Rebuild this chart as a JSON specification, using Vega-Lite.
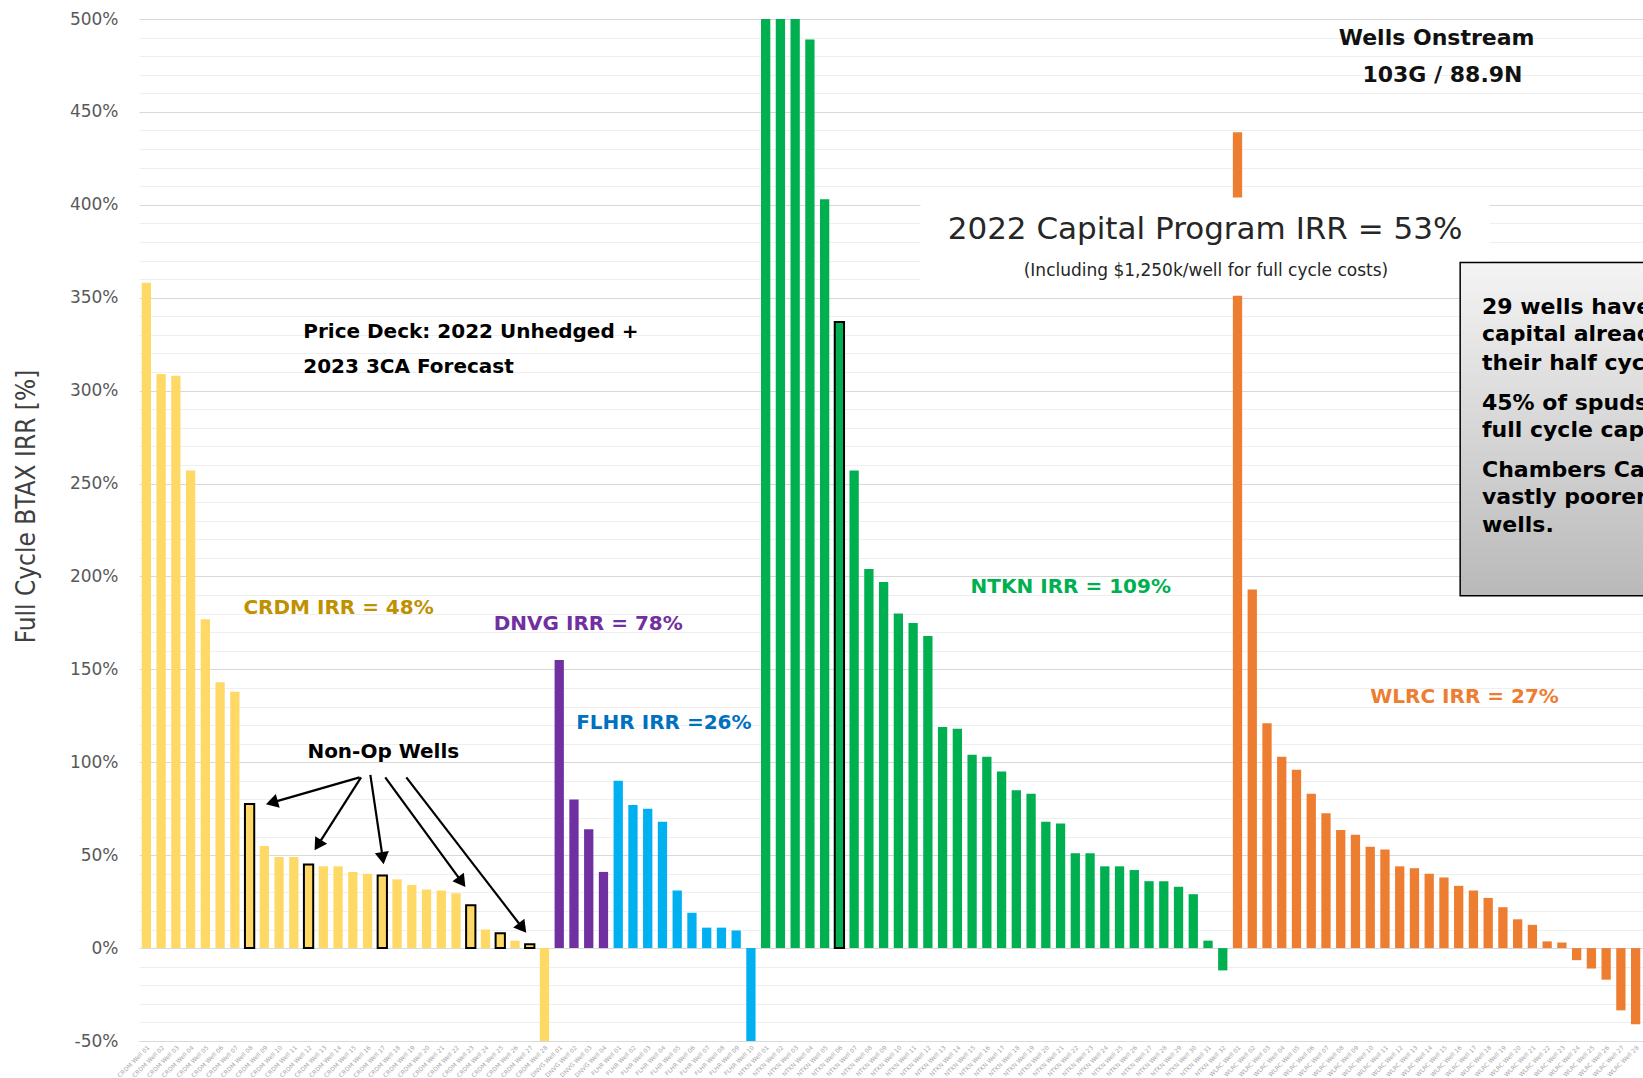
{
  "$schema": "https://vega.github.io/schema/vega-lite/v6.json",
  "width": 1504,
  "height": 1022,
  "autosize": {"type": "none"},
  "padding": {"left": 139, "top": 19, "right": 0, "bottom": 37},
  "background": "white",
  "config": {"view": {"stroke": null}, "font": "DejaVu Sans"},
  "datasets": {
    "wells": [
      {"well": "CRDM Well 01", "area": "CRDM", "irr": 358},
      {"well": "CRDM Well 02", "area": "CRDM", "irr": 309},
      {"well": "CRDM Well 03", "area": "CRDM", "irr": 308},
      {"well": "CRDM Well 04", "area": "CRDM", "irr": 257},
      {"well": "CRDM Well 05", "area": "CRDM", "irr": 177},
      {"well": "CRDM Well 06", "area": "CRDM", "irr": 143},
      {"well": "CRDM Well 07", "area": "CRDM", "irr": 138},
      {"well": "CRDM Well 08", "area": "CRDM", "irr": 77.5, "nonop": true},
      {"well": "CRDM Well 09", "area": "CRDM", "irr": 55},
      {"well": "CRDM Well 10", "area": "CRDM", "irr": 49},
      {"well": "CRDM Well 11", "area": "CRDM", "irr": 49},
      {"well": "CRDM Well 12", "area": "CRDM", "irr": 45, "nonop": true},
      {"well": "CRDM Well 13", "area": "CRDM", "irr": 44},
      {"well": "CRDM Well 14", "area": "CRDM", "irr": 44},
      {"well": "CRDM Well 15", "area": "CRDM", "irr": 41},
      {"well": "CRDM Well 16", "area": "CRDM", "irr": 40},
      {"well": "CRDM Well 17", "area": "CRDM", "irr": 39, "nonop": true},
      {"well": "CRDM Well 18", "area": "CRDM", "irr": 37},
      {"well": "CRDM Well 19", "area": "CRDM", "irr": 34},
      {"well": "CRDM Well 20", "area": "CRDM", "irr": 31.5},
      {"well": "CRDM Well 21", "area": "CRDM", "irr": 31},
      {"well": "CRDM Well 22", "area": "CRDM", "irr": 29.5},
      {"well": "CRDM Well 23", "area": "CRDM", "irr": 23, "nonop": true},
      {"well": "CRDM Well 24", "area": "CRDM", "irr": 10},
      {"well": "CRDM Well 25", "area": "CRDM", "irr": 8, "nonop": true},
      {"well": "CRDM Well 26", "area": "CRDM", "irr": 4},
      {"well": "CRDM Well 27", "area": "CRDM", "irr": 2, "nonop": true},
      {"well": "CRDM Well 28", "area": "CRDM", "irr": -50},
      {"well": "DNVG Well 01", "area": "DNVG", "irr": 155},
      {"well": "DNVG Well 02", "area": "DNVG", "irr": 80},
      {"well": "DNVG Well 03", "area": "DNVG", "irr": 64},
      {"well": "DNVG Well 04", "area": "DNVG", "irr": 41},
      {"well": "FLHR Well 01", "area": "FLHR", "irr": 90},
      {"well": "FLHR Well 02", "area": "FLHR", "irr": 77},
      {"well": "FLHR Well 03", "area": "FLHR", "irr": 75},
      {"well": "FLHR Well 04", "area": "FLHR", "irr": 68},
      {"well": "FLHR Well 05", "area": "FLHR", "irr": 31},
      {"well": "FLHR Well 06", "area": "FLHR", "irr": 19},
      {"well": "FLHR Well 07", "area": "FLHR", "irr": 11},
      {"well": "FLHR Well 08", "area": "FLHR", "irr": 11},
      {"well": "FLHR Well 09", "area": "FLHR", "irr": 9.5},
      {"well": "FLHR Well 10", "area": "FLHR", "irr": -50},
      {"well": "NTKN Well 01", "area": "NTKN", "irr": 500},
      {"well": "NTKN Well 02", "area": "NTKN", "irr": 500},
      {"well": "NTKN Well 03", "area": "NTKN", "irr": 500},
      {"well": "NTKN Well 04", "area": "NTKN", "irr": 489},
      {"well": "NTKN Well 05", "area": "NTKN", "irr": 403},
      {"well": "NTKN Well 06", "area": "NTKN", "irr": 337, "nonop": true},
      {"well": "NTKN Well 07", "area": "NTKN", "irr": 257},
      {"well": "NTKN Well 08", "area": "NTKN", "irr": 204},
      {"well": "NTKN Well 09", "area": "NTKN", "irr": 197},
      {"well": "NTKN Well 10", "area": "NTKN", "irr": 180},
      {"well": "NTKN Well 11", "area": "NTKN", "irr": 175},
      {"well": "NTKN Well 12", "area": "NTKN", "irr": 168},
      {"well": "NTKN Well 13", "area": "NTKN", "irr": 119},
      {"well": "NTKN Well 14", "area": "NTKN", "irr": 118},
      {"well": "NTKN Well 15", "area": "NTKN", "irr": 104},
      {"well": "NTKN Well 16", "area": "NTKN", "irr": 103},
      {"well": "NTKN Well 17", "area": "NTKN", "irr": 95},
      {"well": "NTKN Well 18", "area": "NTKN", "irr": 85},
      {"well": "NTKN Well 19", "area": "NTKN", "irr": 83},
      {"well": "NTKN Well 20", "area": "NTKN", "irr": 68},
      {"well": "NTKN Well 21", "area": "NTKN", "irr": 67},
      {"well": "NTKN Well 22", "area": "NTKN", "irr": 51},
      {"well": "NTKN Well 23", "area": "NTKN", "irr": 51},
      {"well": "NTKN Well 24", "area": "NTKN", "irr": 44},
      {"well": "NTKN Well 25", "area": "NTKN", "irr": 44},
      {"well": "NTKN Well 26", "area": "NTKN", "irr": 42},
      {"well": "NTKN Well 27", "area": "NTKN", "irr": 36},
      {"well": "NTKN Well 28", "area": "NTKN", "irr": 36},
      {"well": "NTKN Well 29", "area": "NTKN", "irr": 33},
      {"well": "NTKN Well 30", "area": "NTKN", "irr": 29},
      {"well": "NTKN Well 31", "area": "NTKN", "irr": 4},
      {"well": "NTKN Well 32", "area": "NTKN", "irr": -12},
      {"well": "WLRC Well 01", "area": "WLRC", "irr": 439},
      {"well": "WLRC Well 02", "area": "WLRC", "irr": 193},
      {"well": "WLRC Well 03", "area": "WLRC", "irr": 121},
      {"well": "WLRC Well 04", "area": "WLRC", "irr": 103},
      {"well": "WLRC Well 05", "area": "WLRC", "irr": 96},
      {"well": "WLRC Well 06", "area": "WLRC", "irr": 83},
      {"well": "WLRC Well 07", "area": "WLRC", "irr": 72.6},
      {"well": "WLRC Well 08", "area": "WLRC", "irr": 63.5},
      {"well": "WLRC Well 09", "area": "WLRC", "irr": 61},
      {"well": "WLRC Well 10", "area": "WLRC", "irr": 54.5},
      {"well": "WLRC Well 11", "area": "WLRC", "irr": 53},
      {"well": "WLRC Well 12", "area": "WLRC", "irr": 44},
      {"well": "WLRC Well 13", "area": "WLRC", "irr": 43},
      {"well": "WLRC Well 14", "area": "WLRC", "irr": 40},
      {"well": "WLRC Well 15", "area": "WLRC", "irr": 38},
      {"well": "WLRC Well 16", "area": "WLRC", "irr": 33.5},
      {"well": "WLRC Well 17", "area": "WLRC", "irr": 31},
      {"well": "WLRC Well 18", "area": "WLRC", "irr": 27},
      {"well": "WLRC Well 19", "area": "WLRC", "irr": 22},
      {"well": "WLRC Well 20", "area": "WLRC", "irr": 15.5},
      {"well": "WLRC Well 21", "area": "WLRC", "irr": 12.5},
      {"well": "WLRC Well 22", "area": "WLRC", "irr": 3.6},
      {"well": "WLRC Well 23", "area": "WLRC", "irr": 3},
      {"well": "WLRC Well 24", "area": "WLRC", "irr": -6.5},
      {"well": "WLRC Well 25", "area": "WLRC", "irr": -11},
      {"well": "WLRC Well 26", "area": "WLRC", "irr": -17},
      {"well": "WLRC Well 27", "area": "WLRC", "irr": -33.5},
      {"well": "WLRC Well 28", "area": "WLRC", "irr": -41}
    ]
  },
  "layer": [
    {
      "data": {"name": "wells"},
      "mark": {"type": "bar", "stroke": "black"},
      "encoding": {
        "x": {
          "field": "well", "type": "nominal", "sort": null,
          "scale": {"paddingInner": 0.37, "paddingOuter": 0.185},
          "axis": {"title": null, "labelAngle": -45, "labelFontSize": 6, "labelColor": "#a6a6a6", "ticks": false, "domain": true, "domainColor": "#d9d9d9", "labelPadding": 3, "grid": false, "labelOverlap": false}
        },
        "y": {
          "field": "irr", "type": "quantitative",
          "scale": {"domain": [-50, 500], "nice": false, "zero": false},
          "axis": {
            "title": "Full Cycle BTAX IRR [%]",
            "values": [-50, -40, -30, -20, -10, 0, 10, 20, 30, 40, 50, 60, 70, 80, 90, 100, 110, 120, 130, 140, 150, 160, 170, 180, 190, 200, 210, 220, 230, 240, 250, 260, 270, 280, 290, 300, 310, 320, 330, 340, 350, 360, 370, 380, 390, 400, 410, 420, 430, 440, 450, 460, 470, 480, 490, 500],
            "labelExpr": "datum.value % 50 === 0 ? datum.value + '%' : ''",
            "gridColor": {"condition": {"test": "datum.value % 50 === 0", "value": "#d9d9d9"}, "value": "#efefef"},
            "gridWidth": 1,
            "ticks": false, "domain": false, "labelOverlap": false,
            "labelFontSize": 17, "labelColor": "#595959", "labelPadding": 21, "labelFont": "DejaVu Sans",
            "titleFont": "Liberation Sans Narrow, DejaVu Sans Condensed, Roboto", "titleFontSize": 26, "titleFontWeight": "normal", "titleColor": "#404040", "titlePadding": 30, "titleY": 487
          }
        },
        "color": {
          "field": "area", "type": "nominal",
          "scale": {"domain": ["CRDM", "DNVG", "FLHR", "NTKN", "WLRC"], "range": ["#FFD966", "#7030A0", "#00B0F0", "#00B050", "#ED7D31"]},
          "legend": null
        },
        "strokeWidth": {"condition": {"test": "datum.nonop", "value": 2}, "value": 0}
      }
    },
    {
      "layer": [
        {
          "data": {"values": [{"x1": 53.5, "x2": 92.1, "y1": 404, "y2": 351}]},
          "mark": {"type": "rect", "fill": "white"},
          "encoding": {
            "x": {"field": "x1", "type": "quantitative", "scale": {"domain": [0.5, 102.5], "nice": false, "zero": false}, "axis": null},
            "x2": {"field": "x2"},
            "y": {"field": "y1", "type": "quantitative", "scale": {"domain": [-50, 500], "nice": false, "zero": false}, "axis": null},
            "y2": {"field": "y2"}
          }
        },
        {
          "data": {"values": [{"x1": 90.1, "x2": 112, "y1": 369, "y2": 189.6}]},
          "mark": {"type": "rect", "clip": true, "stroke": "black", "strokeWidth": 1.5,
            "fill": {"gradient": "linear", "x1": 0, "y1": 0, "x2": 0, "y2": 1, "stops": [{"offset": 0, "color": "#f4f4f4"}, {"offset": 1, "color": "#b9b9b9"}]}},
          "encoding": {
            "x": {"field": "x1", "type": "quantitative", "scale": {"domain": [0.5, 102.5], "nice": false, "zero": false}, "axis": null},
            "x2": {"field": "x2"},
            "y": {"field": "y1", "type": "quantitative", "scale": {"domain": [-50, 500], "nice": false, "zero": false}, "axis": null},
            "y2": {"field": "y2"}
          }
        },
        {
          "data": {"values": [
            {"t": "29 wells have", "xi": 91.58, "yv": 345.2},
            {"t": "capital already", "xi": 91.58, "yv": 330.3},
            {"t": "their half cycle", "xi": 91.58, "yv": 314.8},
            {"t": "45% of spuds", "xi": 91.58, "yv": 293.3},
            {"t": "full cycle capital", "xi": 91.58, "yv": 278.8},
            {"t": "Chambers Camp", "xi": 91.58, "yv": 257.3},
            {"t": "vastly poorer", "xi": 91.58, "yv": 243},
            {"t": "wells.", "xi": 91.58, "yv": 227.9}
          ]},
          "mark": {"type": "text", "clip": true, "align": "left", "baseline": "middle", "fontSize": 22, "fontWeight": "bold", "color": "#000000", "font": "DejaVu Sans"},
          "encoding": {
            "x": {"field": "xi", "type": "quantitative", "scale": {"domain": [0.5, 102.5], "nice": false, "zero": false}, "axis": null},
            "y": {"field": "yv", "type": "quantitative", "scale": {"domain": [-50, 500], "nice": false, "zero": false}, "axis": null},
            "text": {"field": "t"}
          }
        },
        {
          "data": {"values": [{"t": "2022 Capital Program IRR = 53%", "xi": 72.8, "yv": 386.2}]},
          "mark": {"type": "text", "align": "center", "baseline": "middle", "fontSize": 31, "color": "#262626", "font": "DejaVu Sans"},
          "encoding": {
            "x": {"field": "xi", "type": "quantitative", "scale": {"domain": [0.5, 102.5], "nice": false, "zero": false}, "axis": null},
            "y": {"field": "yv", "type": "quantitative", "scale": {"domain": [-50, 500], "nice": false, "zero": false}, "axis": null},
            "text": {"field": "t"}
          }
        },
        {
          "data": {"values": [{"t": "(Including $1,250k/well for full cycle costs)", "xi": 72.86, "yv": 364.2}]},
          "mark": {"type": "text", "align": "center", "baseline": "middle", "fontSize": 17, "color": "#262626", "font": "DejaVu Sans"},
          "encoding": {
            "x": {"field": "xi", "type": "quantitative", "scale": {"domain": [0.5, 102.5], "nice": false, "zero": false}, "axis": null},
            "y": {"field": "yv", "type": "quantitative", "scale": {"domain": [-50, 500], "nice": false, "zero": false}, "axis": null},
            "text": {"field": "t"}
          }
        },
        {
          "data": {"values": [
            {"t": "Price Deck: 2022 Unhedged +", "xi": 11.64, "yv": 331.5},
            {"t": "2023 3CA Forecast", "xi": 11.64, "yv": 312.8},
            {"t": "Non-Op Wells", "xi": 11.92, "yv": 105.4}
          ]},
          "mark": {"type": "text", "align": "left", "baseline": "middle", "fontSize": 20, "fontWeight": "bold", "color": "#000000", "font": "DejaVu Sans"},
          "encoding": {
            "x": {"field": "xi", "type": "quantitative", "scale": {"domain": [0.5, 102.5], "nice": false, "zero": false}, "axis": null},
            "y": {"field": "yv", "type": "quantitative", "scale": {"domain": [-50, 500], "nice": false, "zero": false}, "axis": null},
            "text": {"field": "t"}
          }
        },
        {
          "data": {"values": [
            {"t": "Wells Onstream", "xi": 88.5, "yv": 489.7},
            {"t": "103G / 88.9N", "xi": 88.9, "yv": 469.8}
          ]},
          "mark": {"type": "text", "align": "center", "baseline": "middle", "fontSize": 22, "fontWeight": "bold", "color": "#111111", "font": "DejaVu Sans"},
          "encoding": {
            "x": {"field": "xi", "type": "quantitative", "scale": {"domain": [0.5, 102.5], "nice": false, "zero": false}, "axis": null},
            "y": {"field": "yv", "type": "quantitative", "scale": {"domain": [-50, 500], "nice": false, "zero": false}, "axis": null},
            "text": {"field": "t"}
          }
        },
        {
          "data": {"values": [
            {"t": "CRDM IRR = 48%", "area": "CRDM", "xi": 7.58, "yv": 183.2},
            {"t": "DNVG IRR = 78%", "area": "DNVG", "xi": 24.56, "yv": 174.2},
            {"t": "FLHR IRR =26%", "area": "FLHR", "xi": 30.15, "yv": 121.2},
            {"t": "NTKN IRR = 109%", "area": "NTKN", "xi": 56.9, "yv": 194.5},
            {"t": "WLRC IRR = 27%", "area": "WLRC", "xi": 84.0, "yv": 135.3}
          ]},
          "mark": {"type": "text", "align": "left", "baseline": "middle", "fontSize": 20, "fontWeight": "bold", "font": "DejaVu Sans"},
          "encoding": {
            "x": {"field": "xi", "type": "quantitative", "scale": {"domain": [0.5, 102.5], "nice": false, "zero": false}, "axis": null},
            "y": {"field": "yv", "type": "quantitative", "scale": {"domain": [-50, 500], "nice": false, "zero": false}, "axis": null},
            "text": {"field": "t"},
            "color": {"field": "area", "type": "nominal", "scale": {"domain": ["CRDM", "DNVG", "FLHR", "NTKN", "WLRC"], "range": ["#BF9000", "#7030A0", "#0070C0", "#00B050", "#ED7D31"]}, "legend": null}
          }
        },
        {
          "data": {"values": [
            {"xa": 15.46, "ya": 91.9, "xb": 9.51, "yb": 78.3},
            {"xa": 15.56, "ya": 91.9, "xb": 12.63, "yb": 55.4},
            {"xa": 16.19, "ya": 93.2, "xb": 17.03, "yb": 48.4},
            {"xa": 17.2, "ya": 91.9, "xb": 22.39, "yb": 35.6},
            {"xa": 18.63, "ya": 91.9, "xb": 26.51, "yb": 10.8}
          ]},
          "mark": {"type": "rule", "color": "#000000", "strokeWidth": 2.2},
          "encoding": {
            "x": {"field": "xa", "type": "quantitative", "scale": {"domain": [0.5, 102.5], "nice": false, "zero": false}, "axis": null},
            "y": {"field": "ya", "type": "quantitative", "scale": {"domain": [-50, 500], "nice": false, "zero": false}, "axis": null},
            "x2": {"field": "xb"},
            "y2": {"field": "yb"}
          }
        },
        {
          "data": {"values": [
            {"xb": 9.51, "yb": 78.3, "ang": 253.9},
            {"xb": 12.63, "yb": 55.4, "ang": 212.5},
            {"xb": 17.03, "yb": 48.4, "ang": 171.5},
            {"xb": 22.39, "yb": 35.6, "ang": 143.8},
            {"xb": 26.51, "yb": 10.8, "ang": 142.3}
          ]},
          "mark": {"type": "point", "shape": "triangle-up", "filled": true, "color": "#000000", "size": 200, "opacity": 1},
          "encoding": {
            "x": {"field": "xb", "type": "quantitative", "scale": {"domain": [0.5, 102.5], "nice": false, "zero": false}, "axis": null},
            "y": {"field": "yb", "type": "quantitative", "scale": {"domain": [-50, 500], "nice": false, "zero": false}, "axis": null},
            "angle": {"field": "ang", "type": "quantitative", "scale": null}
          }
        }
      ]
    }
  ],
  "resolve": {"scale": {"x": "independent", "y": "independent", "color": "independent"}, "axis": {"x": "independent", "y": "independent"}}
}
